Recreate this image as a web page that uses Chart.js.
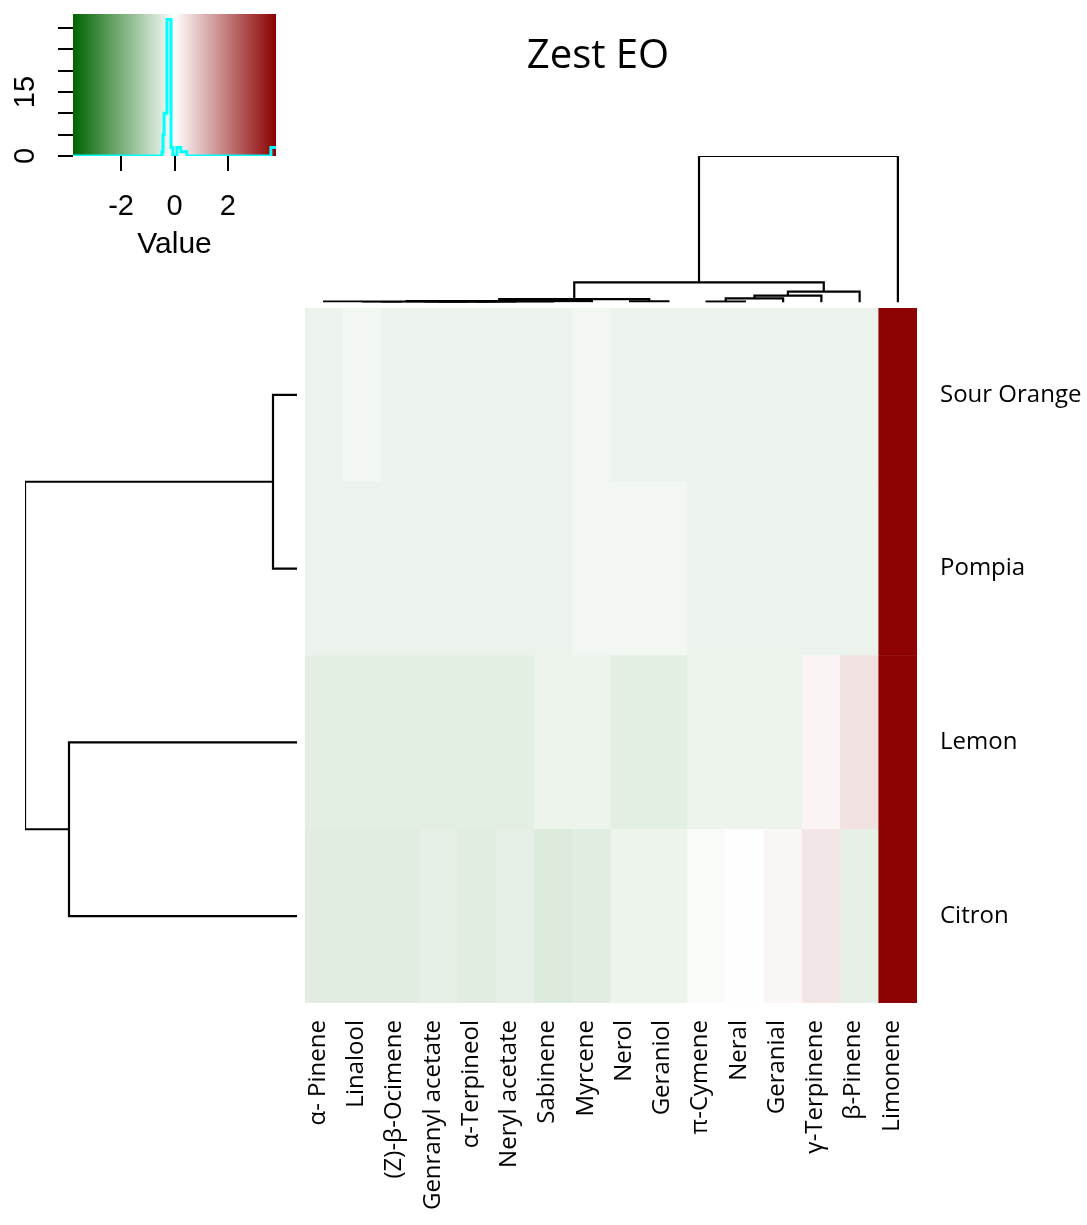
<!DOCTYPE html>
<html>
<head>
<meta charset="utf-8">
<script src="https://cdn.jsdelivr.net/npm/chart.js@4.4.0/dist/chart.umd.min.js"></script>
<style>
  html, body { margin: 0; padding: 0; background: #fff; }
  body { position: relative; width: 1087px; height: 1225px; overflow: hidden; }
  .box { position: absolute; }
</style>
</head>
<body>
<div class="box" style="left:0;top:0;width:290px;height:275px"><canvas id="key"></canvas></div>
<div class="box" style="left:279px;top:0;width:638px;height:305px"><canvas id="colTree"></canvas></div>
<div class="box" style="left:0;top:308px;width:305px;height:695px"><canvas id="rowTree"></canvas></div>
<div class="box" style="left:305px;top:308px;width:782px;height:917px"><canvas id="heat"></canvas></div>
<script>
// rows / columns in the order they are shown
const rowNames = ["Sour Orange", "Pompia", "Lemon", "Citron"];
const colNames = ["\u03B1- Pinene", "Linalool", "(Z)-\u03B2-Ocimene", "Genranyl acetate", "\u03B1-Terpineol",
  "Neryl acetate", "Sabinene", "Myrcene", "Nerol", "Geraniol", "\u03C0-Cymene", "Neral", "Geranial",
  "\u03B3-Terpinene", "\u03B2-Pinene", "Limonene"];

// scaled values, one list per row
const sourOrange = [-0.29, -0.20, -0.29, -0.29, -0.29, -0.29, -0.29, -0.20, -0.29, -0.29, -0.29, -0.29, -0.29, -0.29, -0.29, 3.75];
const pompia     = [-0.29, -0.29, -0.29, -0.29, -0.29, -0.29, -0.29, -0.20, -0.20, -0.20, -0.29, -0.29, -0.29, -0.29, -0.29, 3.75];
const lemon      = [-0.40, -0.40, -0.40, -0.40, -0.40, -0.40, -0.28, -0.28, -0.40, -0.40, -0.28, -0.28, -0.28, 0.17, 0.44, 3.75];
const citron     = [-0.44, -0.44, -0.44, -0.38, -0.43, -0.38, -0.50, -0.44, -0.28, -0.28, -0.11, -0.02, 0.13, 0.38, -0.38, 3.75];

// colour key + histogram
const keyRange = [-3.8, 3.8];
const keyTicks = [-2, 0, 2];
const countTicks = [0, 5, 10, 15, 20, 25, 30];
const histBreaks = [-3.8, -0.47, -0.43, -0.39, -0.28, -0.13, -0.06, 0.09, 0.24, 0.46, 3.61, 3.8];
const histCounts = [0, 1, 5, 10, 32, 2, 0, 2, 1, 0, 2];

// dendrograms (hclust style: negative = leaf, positive = earlier merge)
const colMerge = [[-2, -3], [-5, -6], [-4, 2], [1, 3], [4, -7], [-1, 5], [6, -8], [-9, -10], [7, 8],
  [-11, -12], [10, -13], [11, -14], [12, -15], [9, 13], [14, -16]];
const colHeights = [0.2, 0.2, 0.4, 0.5, 0.7, 1.0, 1.3, 1.1, 3.4, 0.8, 4.2, 6.8, 10.8, 20.2, 146.5];
const rowMerge = [[-1, -2], [-3, -4], [1, 2]];
const rowHeights = [24, 228, 272];

Chart.defaults.font.family = "'Open Sans', sans-serif";
Chart.defaults.color = "#000";

function valueColor(v) {
  const t = Math.min(Math.abs(v) / keyRange[1], 1);
  const end = v < 0 ? [0, 100, 0] : [139, 0, 0];
  const c = end.map(e => Math.round(255 + (e - 255) * t));
  return "rgb(" + c.join(",") + ")";
}

function dendroLines(merge, heights) {
  const nodes = [], lines = [];
  const at = k => (k < 0 ? { p: -k - 0.5, h: 0 } : nodes[k - 1]);
  merge.forEach((m, i) => {
    const a = at(m[0]), b = at(m[1]), h = heights[i];
    lines.push([a, { p: a.p, h: h }, { p: b.p, h: h }, b]);
    nodes.push({ p: (a.p + b.p) / 2, h: h });
  });
  return lines;
}

const treeLine = data => ({ data: data, showLine: true, borderColor: "#000", borderWidth: 2.2, pointRadius: 0 });

// axes should not push the plot area around
const noPad = s => { s.paddingTop = 0; s.paddingBottom = 0; s.paddingLeft = 0; s.paddingRight = 0; };

const baseOpts = {
  responsive: true,
  maintainAspectRatio: false,
  animation: false,
  events: [],
};

// ---- colour key
const keyBackground = {
  id: "keyBackground",
  beforeDatasetsDraw(chart) {
    const { ctx, chartArea: a, scales: { x } } = chart;
    const g = ctx.createLinearGradient(x.getPixelForValue(keyRange[0]), 0, x.getPixelForValue(keyRange[1]), 0);
    g.addColorStop(0, valueColor(keyRange[0]));
    g.addColorStop(0.5, valueColor(0));
    g.addColorStop(1, valueColor(keyRange[1]));
    ctx.save();
    ctx.fillStyle = g;
    ctx.fillRect(a.left, a.top, a.width, a.height);
    ctx.restore();
  }
};

const histPoints = [];
histCounts.forEach((c, i) => {
  histPoints.push({ x: histBreaks[i], y: c }, { x: histBreaks[i + 1], y: c });
});

const keyFont = { family: "'Liberation Sans', Arial, sans-serif", size: 29 };

new Chart(document.getElementById("key"), {
  type: "scatter",
  data: {
    datasets: [{ data: histPoints, showLine: true, borderColor: "#00FFFF", borderWidth: 3, pointRadius: 0 }]
  },
  plugins: [keyBackground],
  options: {
    ...baseOpts,
    layout: { padding: { top: 14, right: 14 } },
    plugins: { legend: { display: false }, tooltip: { enabled: false } },
    scales: {
      x: {
        type: "linear", min: keyRange[0], max: keyRange[1],
        afterBuildTicks: s => { s.ticks = keyTicks.map(v => ({ value: v })); },
        afterFit: s => { s.height = 119; noPad(s); },
        grid: { drawOnChartArea: false, drawTicks: true, tickLength: 15, color: "#000", lineWidth: 2 },
        border: { display: false },
        ticks: { autoSkip: false, padding: 19, font: keyFont, maxRotation: 0 },
        title: { display: true, text: "Value", font: { ...keyFont, size: 30 }, padding: { top: 0, bottom: 12 } }
      },
      y: {
        type: "linear", min: 0, max: 33.3,
        afterBuildTicks: s => { s.ticks = countTicks.map(v => ({ value: v })); },
        afterFit: s => { s.width = 73; noPad(s); },
        grid: { drawOnChartArea: false, drawTicks: true, tickLength: 15, color: "#000", lineWidth: 2 },
        border: { display: false },
        ticks: {
          autoSkip: false, minRotation: 90, maxRotation: 90, crossAlign: "center", padding: 16, font: keyFont,
          callback: v => (v === 0 || v === 15 ? String(v) : "")
        }
      }
    }
  }
});

// ---- column dendrogram (with the title)
new Chart(document.getElementById("colTree"), {
  type: "scatter",
  data: { datasets: dendroLines(colMerge, colHeights).map(l => treeLine(l.map(q => ({ x: q.p, y: q.h })))) },
  options: {
    ...baseOpts,
    layout: { padding: { bottom: 2.5 } },
    plugins: {
      legend: { display: false }, tooltip: { enabled: false },
      title: {
        display: true, text: "Zest EO",
        font: { size: 40, weight: "normal" },
        padding: { top: 33, bottom: 75 }
      }
    },
    scales: {
      x: { display: false, type: "linear", min: 0, max: colNames.length },
      y: {
        type: "linear", min: 0, max: colHeights[colHeights.length - 1],
        ticks: { display: false }, grid: { display: false }, border: { display: false },
        afterFit: s => { s.width = 26; noPad(s); }
      }
    }
  }
});

// ---- row dendrogram
new Chart(document.getElementById("rowTree"), {
  type: "scatter",
  data: { datasets: dendroLines(rowMerge, rowHeights).map(l => treeLine(l.map(q => ({ x: q.h, y: q.p })))) },
  options: {
    ...baseOpts,
    layout: { padding: { left: 25, right: 8 } },
    plugins: { legend: { display: false }, tooltip: { enabled: false } },
    scales: {
      x: { display: false, type: "linear", min: 0, max: rowHeights[rowHeights.length - 1], reverse: true },
      y: { display: false, type: "linear", min: 0, max: rowNames.length, reverse: true }
    }
  }
});

// ---- heatmap cells
const heatRows = [sourOrange, pompia, lemon, citron];
const cells = [], cellColors = [];
heatRows.forEach((vals, r) => {
  vals.forEach((v, c) => {
    cells.push({ x: c + 0.5, y: [r, r + 1] });
    cellColors.push(valueColor(v));
  });
});

const labelFont = { size: 24 };

new Chart(document.getElementById("heat"), {
  type: "bar",
  data: {
    datasets: [{ data: cells, backgroundColor: cellColors, borderWidth: 0, barPercentage: 1, categoryPercentage: 1 }]
  },
  options: {
    ...baseOpts,
    plugins: { legend: { display: false }, tooltip: { enabled: false } },
    scales: {
      x: {
        type: "linear", position: "bottom", min: 0, max: colNames.length, offset: false,
        afterBuildTicks: s => { s.ticks = colNames.map((n, i) => ({ value: i + 0.5 })); },
        afterFit: s => { s.height = 222; noPad(s); },
        grid: { display: false, drawTicks: false }, border: { display: false },
        ticks: { autoSkip: false, minRotation: 90, maxRotation: 90, padding: 17, labelOffset: -6, font: labelFont,
          callback: (v, i) => colNames[i] }
      },
      y: {
        type: "linear", position: "right", min: 0, max: rowNames.length, reverse: true,
        afterBuildTicks: s => { s.ticks = rowNames.map((n, i) => ({ value: i + 0.5 })); },
        afterFit: s => { s.width = 170; noPad(s); },
        grid: { display: false, drawTicks: false }, border: { display: false },
        ticks: { autoSkip: false, padding: 23, font: labelFont, callback: (v, i) => rowNames[i] }
      }
    }
  }
});
</script>
</body>
</html>
